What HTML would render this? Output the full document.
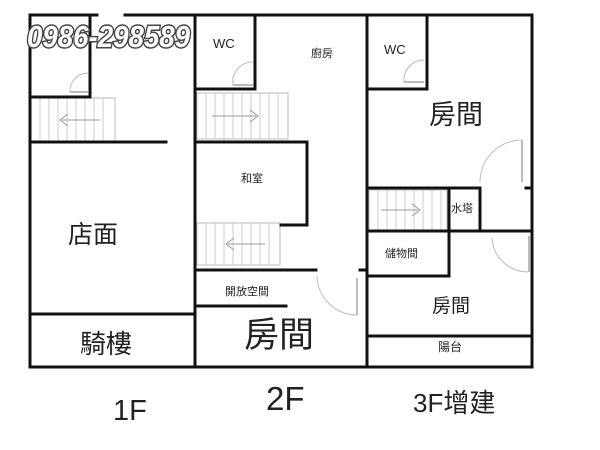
<!DOCTYPE html>
<html><head><meta charset="utf-8"><style>
html,body{margin:0;padding:0;background:#fff;width:600px;height:450px;overflow:hidden}
text{font-family:"Liberation Sans","Noto Sans CJK TC",sans-serif;fill:#222}
</style></head><body>
<svg width="600" height="450" viewBox="0 0 600 450" xmlns="http://www.w3.org/2000/svg">
<g fill="none" stroke="#bbb" stroke-width="1">
<rect x="31" y="98" width="84" height="43"/>
<g stroke="#ccc"><line x1="40" y1="98" x2="40" y2="141"/><line x1="49" y1="98" x2="49" y2="141"/><line x1="58" y1="98" x2="58" y2="141"/><line x1="67" y1="98" x2="67" y2="141"/><line x1="76" y1="98" x2="76" y2="141"/><line x1="85" y1="98" x2="85" y2="141"/><line x1="94" y1="98" x2="94" y2="141"/><line x1="103" y1="98" x2="103" y2="141"/></g>
<path d="M100 120 H62 M68 114 L60 120 L68 126" stroke="#999"/>
<rect x="197" y="93" width="91" height="46"/>
<g stroke="#ccc"><line x1="206" y1="93" x2="206" y2="139"/><line x1="215" y1="93" x2="215" y2="139"/><line x1="224" y1="93" x2="224" y2="139"/><line x1="233" y1="93" x2="233" y2="139"/><line x1="242" y1="93" x2="242" y2="139"/><line x1="251" y1="93" x2="251" y2="139"/><line x1="260" y1="93" x2="260" y2="139"/><line x1="269" y1="93" x2="269" y2="139"/><line x1="278" y1="93" x2="278" y2="139"/></g>
<path d="M212 116 H256 M250 110 L258 116 L250 122" stroke="#999"/>
<rect x="197" y="223" width="83" height="42"/>
<g stroke="#ccc"><line x1="206" y1="223" x2="206" y2="265"/><line x1="215" y1="223" x2="215" y2="265"/><line x1="224" y1="223" x2="224" y2="265"/><line x1="233" y1="223" x2="233" y2="265"/><line x1="242" y1="223" x2="242" y2="265"/><line x1="251" y1="223" x2="251" y2="265"/><line x1="260" y1="223" x2="260" y2="265"/><line x1="269" y1="223" x2="269" y2="265"/></g>
<path d="M265 244 H228 M234 238 L226 244 L234 250" stroke="#999"/>
<rect x="369" y="190" width="78" height="40"/>
<g stroke="#ccc"><line x1="378" y1="190" x2="378" y2="230"/><line x1="387" y1="190" x2="387" y2="230"/><line x1="396" y1="190" x2="396" y2="230"/><line x1="405" y1="190" x2="405" y2="230"/><line x1="414" y1="190" x2="414" y2="230"/><line x1="423" y1="190" x2="423" y2="230"/><line x1="432" y1="190" x2="432" y2="230"/><line x1="441" y1="190" x2="441" y2="230"/></g>
<path d="M381 210 H418 M412 204 L420 210 L412 216" stroke="#999"/>
<path d="M70 92 A18 18 0 0 1 88 73"/><line x1="70" y1="92" x2="88" y2="92" stroke-width="2"/>
<path d="M233 85 A20 20 0 0 1 253 62"/><line x1="233" y1="85" x2="253" y2="85" stroke-width="2"/>
<path d="M404 82 A20 20 0 0 1 424 60"/><line x1="404" y1="82" x2="424" y2="82" stroke-width="2"/>
<path d="M480 182 A42 42 0 0 1 522 140"/><line x1="522" y1="140" x2="522" y2="182" stroke-width="2"/>
<path d="M492 238 A36 36 0 0 0 528 272"/><line x1="529" y1="236" x2="529" y2="272" stroke-width="2"/>
<path d="M317 276 A40 40 0 0 0 357 315"/><line x1="357" y1="278" x2="357" y2="315" stroke-width="2"/>
</g>
<g stroke="#111" stroke-width="3" fill="none" stroke-linecap="square">
<path d="M97 15 H30 V367 H532 V15 H125"/>
<line x1="195" y1="15" x2="195" y2="367"/>
<line x1="367" y1="15" x2="367" y2="367"/>
<path d="M90 15 V97 H30"/>
<line x1="30" y1="142" x2="166" y2="142"/>
<line x1="30" y1="314" x2="195" y2="314"/>
<path d="M255 15 V89 H195"/>
<path d="M195 142 H307 V225 H281"/>
<line x1="195" y1="270" x2="316" y2="270"/>
<line x1="360" y1="270" x2="367" y2="270"/>
<line x1="195" y1="306" x2="286" y2="306"/>
<path d="M427 15 V89 H367"/>
<path d="M367 188 H480 V231"/>
<line x1="526" y1="188" x2="532" y2="188"/>
<line x1="449" y1="188" x2="449" y2="276"/>
<line x1="367" y1="231" x2="532" y2="231"/>
<line x1="367" y1="276" x2="449" y2="276"/>
<line x1="367" y1="336" x2="532" y2="336"/>
</g>
<text x="27" y="47" font-size="31" font-weight="bold" font-style="italic" textLength="163" lengthAdjust="spacingAndGlyphs" style="fill:#fff;stroke:#444;stroke-width:3;paint-order:stroke">0986-298589</text>
<text x="213" y="48" font-size="13">WC</text>
<text x="384" y="54" font-size="13">WC</text>
<text x="311" y="57" font-size="11">廚房</text>
<text x="241" y="182" font-size="11">和室</text>
<text x="225" y="295" font-size="11">開放空間</text>
<text x="68" y="243" font-size="25">店面</text>
<text x="80" y="353" font-size="26">騎樓</text>
<text x="244" y="347" font-size="35">房間</text>
<text x="429" y="124" font-size="27">房間</text>
<text x="451" y="212" font-size="11">水塔</text>
<text x="385" y="257" font-size="11">儲物間</text>
<text x="432" y="312" font-size="19">房間</text>
<text x="438" y="351" font-size="12">陽台</text>
<text x="113" y="420" font-size="29">1F</text>
<text x="266" y="410" font-size="33">2F</text>
<text x="413" y="412" font-size="26">3F增建</text>
</svg>
</body></html>
